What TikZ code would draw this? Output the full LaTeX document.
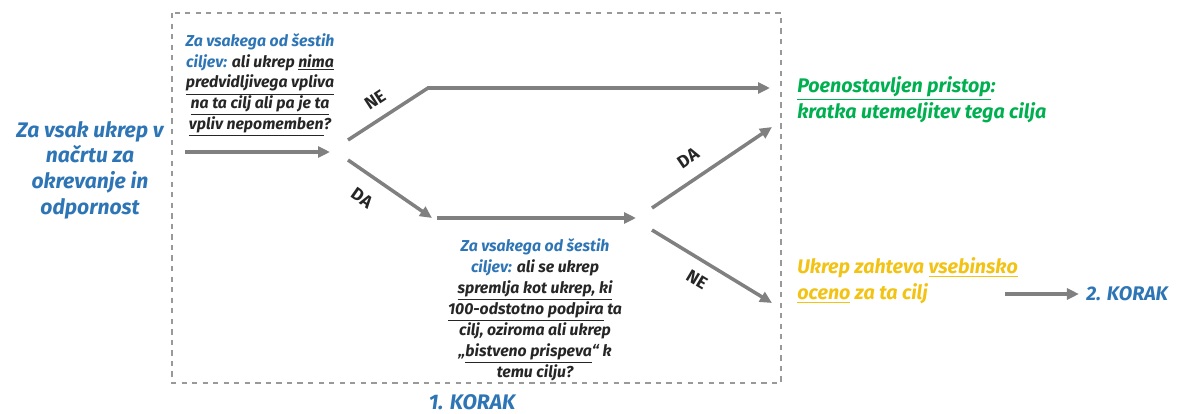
\documentclass[tikz,border=0pt]{standalone}
\usepackage{fontspec}
\setmainfont{Fira Sans}
\usepackage{xcolor}
\usetikzlibrary{arrows.meta,positioning,calc}

\definecolor{kblue}{HTML}{2E75B6}
\definecolor{kgreen}{HTML}{00B050}
\definecolor{kgold}{HTML}{F2C314}
\definecolor{kgray}{HTML}{808080}
\definecolor{ktext}{HTML}{262626}

\begin{document}
\begin{tikzpicture}[
  x=0.02cm, y=-0.02cm,
  font=\bfseries\itshape,
  big/.style={font=\fontsize{12}{14.6}\selectfont\bfseries\itshape, inner sep=0pt},
  res/.style={font=\fontsize{11.2}{14.8}\selectfont\bfseries\itshape, inner sep=0pt},
  quest/.style={font=\fontsize{9}{11.9}\selectfont\bfseries\itshape, text=ktext,
                align=center, inner sep=0pt},
  ar/.style={-{Triangle[length=2.4mm,width=2.2mm]}, draw=kgray, line width=2pt},
  yn/.style={font=\fontsize{10}{12}\selectfont\bfseries, text=ktext, inner sep=0pt},
  frame/.style={draw=kgray!80, dashed, line width=0.8pt}
]
\useasboundingbox (0,0) rectangle (1178,413);

% korak 1 frame
\draw[frame] (172,13) rectangle (781,383);

\node[big, text=kblue, align=center] (start) at (90,170)
  {Za vsak ukrep v\\načrtu za\\okrevanje in\\odpornost};

\node[quest] (q1) at (260,85)
  {\textcolor{kblue}{Za vsakega od šestih}\\
   \textcolor{kblue}{ciljev:} ali ukrep \underline{nima}\\
   \underline{predvidljivega vpliva}\\
   \underline{na ta cilj ali pa je ta}\\
   \underline{vpliv nepomemben}?};

\node[quest] (q2) at (535,310)
  {\textcolor{kblue}{Za vsakega od šestih}\\
   \textcolor{kblue}{ciljev:} ali se ukrep\\
   \underline{spremlja kot ukrep, ki}\\
   \underline{100-odstotno podpira} ta\\
   cilj, oziroma ali ukrep\\
   „\underline{bistveno prispeva}“ k\\
   temu cilju?};

\node[res, text=kgreen, align=left, anchor=west] (simple) at (797,100)
  {\underline{Poenostavljen pristop}:\\kratka utemeljitev tega cilja};
\node[res, text=kgold, align=left, anchor=west] (full) at (797,281)
  {Ukrep zahteva \underline{vsebinsko}\\\underline{oceno} za ta cilj};
\node[res, text=kblue, anchor=west] (step2) at (1086,294) {2. KORAK};
\node[big, text=kblue] (step1) at (472,402) {1. KORAK};

% branch points
\coordinate (in1) at (185,152);
\coordinate (out1) at (330,152);
\coordinate (ne1) at (348,140);
\coordinate (ne1k) at (428,88);
\coordinate (ne1e) at (770,88);
\coordinate (da1) at (348,160);
\coordinate (da1e) at (432,218);
\coordinate (in2) at (437,218);
\coordinate (out2) at (636,218);
\coordinate (da2) at (652,208);
\coordinate (da2e) at (772,127);
\coordinate (ne2) at (652,230);
\coordinate (ne2e) at (772,303);
\coordinate (k2) at (1005,294);

\draw[ar] (in1) -- (out1);
\draw[ar] (ne1) -- (ne1k) -- (ne1e);
\draw[ar] (da1) -- (da1e);
\draw[ar] (in2) -- (out2);
\draw[ar] (da2) -- (da2e);
\draw[ar] (ne2) -- (ne2e);
\draw[ar] (k2) -- ([xshift=-4pt]step2.west);

\node[yn, rotate=33] (lne1) at (375,100) {NE};
\node[yn, rotate=-35] (lda1) at (362,198) {DA};
\node[yn, rotate=34] (lda2) at (688,158) {DA};
\node[yn, rotate=-31] (lne2) at (697,280) {NE};
\end{tikzpicture}
\end{document}
